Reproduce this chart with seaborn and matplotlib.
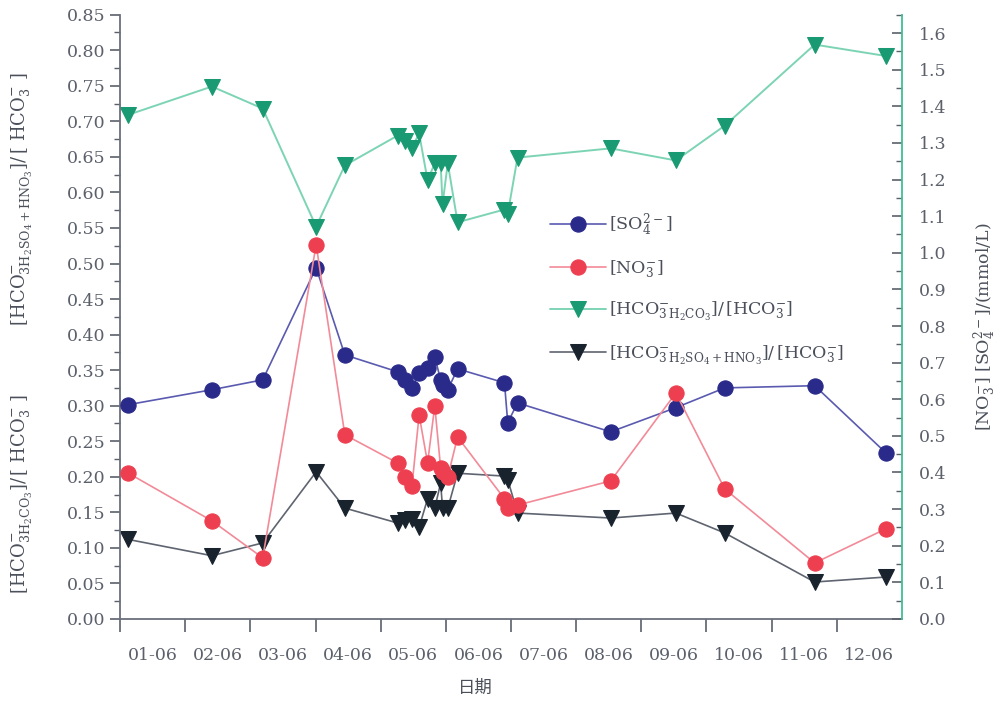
import matplotlib
matplotlib.use("Agg")
import matplotlib.pyplot as plt
import seaborn as sns
import pandas as pd
from matplotlib.ticker import MultipleLocator, FixedLocator, NullFormatter, FixedFormatter

# ---- data ----
month_pos = [0.12, 1.41, 2.19, 3.01, 3.45, 4.26, 4.37, 4.48, 4.59, 4.72, 4.83, 4.92,
             4.95, 5.03, 5.18, 5.90, 5.95, 6.10, 7.53, 8.53, 9.28, 10.66, 11.75]
so4 = [0.585, 0.626, 0.653, 0.959, 0.721, 0.675, 0.653, 0.631, 0.672, 0.686, 0.716, 0.653,
       0.640, 0.626, 0.683, 0.645, 0.536, 0.590, 0.511, 0.577, 0.631, 0.637, 0.454]
no3 = [0.399, 0.268, 0.167, 1.022, 0.503, 0.426, 0.388, 0.363, 0.557, 0.426, 0.582, 0.413,
       0.402, 0.388, 0.497, 0.328, 0.303, 0.311, 0.377, 0.617, 0.355, 0.153, 0.246]
ratio_h2co3 = [0.709, 0.749, 0.718, 0.552, 0.638, 0.680, 0.673, 0.663, 0.683, 0.617, 0.641, 0.641,
               0.584, 0.641, 0.558, 0.576, 0.570, 0.649, 0.662, 0.645, 0.694, 0.808, 0.792]
ratio_acid = [0.112, 0.089, 0.107, 0.207, 0.156, 0.135, 0.139, 0.140, 0.129, 0.169, 0.156, 0.191,
              0.156, 0.156, 0.205, 0.201, 0.196, 0.149, 0.142, 0.149, 0.121, 0.052, 0.059]
month_labels = ["01-06", "02-06", "03-06", "04-06", "05-06", "06-06",
                "07-06", "08-06", "09-06", "10-06", "11-06", "12-06"]

df = pd.DataFrame({"x": month_pos, "so4": so4, "no3": no3,
                   "r1": ratio_h2co3, "r2": ratio_acid})

sns.set_theme(style="white")
plt.rcParams["font.family"] = ["DejaVu Serif", "Noto Sans CJK SC"]
plt.rcParams["mathtext.fontset"] = "dejavuserif"

tick_col = "#5b606b"
fig = plt.figure(figsize=(10, 7.01), dpi=100)
ax = fig.add_axes([0.12, 0.117, 0.782, 0.862])
ax2 = ax.twinx()

lab_so4 = r"$[\mathrm{SO}_4^{2-}]$"
lab_no3 = r"$[\mathrm{NO}_3^{-}]$"
lab_r1 = r"$[\mathrm{HCO}^{-}_{3\,\mathrm{H_2CO_3}}]/\,[\mathrm{HCO}_3^{-}]$"
lab_r2 = r"$[\mathrm{HCO}^{-}_{3\,\mathrm{H_2SO_4+HNO_3}}]/\,[\mathrm{HCO}_3^{-}]$"

sns.lineplot(data=df, x="x", y="so4", ax=ax2, estimator=None, sort=False,
             color="#5a5ab0", lw=1.2, marker="o", markersize=11,
             markerfacecolor="#2a2a8a", markeredgecolor="#2a2a8a", label=lab_so4)
sns.lineplot(data=df, x="x", y="no3", ax=ax2, estimator=None, sort=False,
             color="#f28a98", lw=1.2, marker="o", markersize=11,
             markerfacecolor="#ee3f50", markeredgecolor="#ee3f50", label=lab_no3)
sns.lineplot(data=df, x="x", y="r1", ax=ax, estimator=None, sort=False,
             color="#7cd4b4", lw=1.4, marker="v", markersize=12,
             markerfacecolor="#1a9a72", markeredgecolor="#1a9a72", label=lab_r1)
sns.lineplot(data=df, x="x", y="r2", ax=ax, estimator=None, sort=False,
             color="#5e6470", lw=1.2, marker="v", markersize=12,
             markerfacecolor="#18232e", markeredgecolor="#18232e", label=lab_r2)

h2, l2 = ax2.get_legend_handles_labels()
h1, l1 = ax.get_legend_handles_labels()
if ax.get_legend():
    ax.get_legend().remove()
if ax2.get_legend():
    ax2.get_legend().remove()
ax2.legend(h2 + h1, l2 + l1, loc="upper left", bbox_to_anchor=(0.53, 0.70),
           frameon=False, fontsize=12.5, handlelength=3.2, labelspacing=1.15,
           handletextpad=0.2, labelcolor="#4a4f5a")

# axes limits / ticks
ax.set_xlim(0, 12)
ax.set_ylim(0, 0.85)
ax2.set_ylim(0, 1.65)
ax.xaxis.set_major_locator(FixedLocator(list(range(0, 12))))
ax.xaxis.set_major_formatter(NullFormatter())
ax.xaxis.set_minor_locator(FixedLocator([i + 0.5 for i in range(12)]))
ax.xaxis.set_minor_formatter(FixedFormatter(month_labels))
ax.tick_params(axis="x", which="major", direction="out", length=9, width=1.2,
               color=tick_col, bottom=True)
ax.tick_params(axis="x", which="minor", length=0, pad=20, labelsize=12.5,
               labelcolor=tick_col, bottom=True)

ax.yaxis.set_major_locator(MultipleLocator(0.05))
ax.yaxis.set_minor_locator(MultipleLocator(0.025))
ax.yaxis.set_major_formatter(matplotlib.ticker.FormatStrFormatter("%.2f"))
ax.tick_params(axis="y", which="major", direction="out", length=7, width=1.2,
               color=tick_col, labelsize=12.5, labelcolor=tick_col, left=True)
ax.tick_params(axis="y", which="minor", direction="out", length=4, width=1.0,
               color=tick_col, left=True)

ax2.yaxis.set_major_locator(MultipleLocator(0.1))
ax2.yaxis.set_minor_locator(MultipleLocator(0.05))
ax2.yaxis.set_major_formatter(matplotlib.ticker.FormatStrFormatter("%.1f"))
ax2.tick_params(axis="y", which="major", direction="in", length=7, width=1.2,
                color=tick_col, labelsize=12.5, labelcolor=tick_col, right=True, pad=12)
ax2.tick_params(axis="y", which="minor", direction="in", length=4, width=1.0,
                color=tick_col, right=True)

for a in (ax, ax2):
    a.set_xlabel("")
    a.set_ylabel("")
    a.spines["top"].set_visible(False)
    a.grid(False)
ax.spines["left"].set_color("#6a707c")
ax.spines["bottom"].set_color("#6a707c")
ax.spines["left"].set_linewidth(1.3)
ax.spines["bottom"].set_linewidth(1.3)
ax.spines["right"].set_visible(False)
ax2.spines["left"].set_visible(False)
ax2.spines["bottom"].set_visible(False)
ax2.spines["right"].set_color("#3fbf92")
ax2.spines["right"].set_linewidth(1.3)

# axis labels
fig.text(0.475, 0.006, "日期", ha="center", va="bottom", fontsize=12.5,
         color="#4a4f5a", family=["Noto Sans CJK SC", "DejaVu Sans"])
fig.text(0.022, 0.525,
         r"$[\mathrm{HCO}^{-}_{3\mathrm{H_2CO_3}}]/\,[\ \mathrm{HCO}_3^{-}\ ]$"
         + "            "
         + r"$[\mathrm{HCO}^{-}_{3\mathrm{H_2SO_4+HNO_3}}]/\,[\ \mathrm{HCO}_3^{-}\ ]$",
         rotation=90, ha="center", va="center", fontsize=13, color="#4a4f5a")
fig.text(0.985, 0.534, r"$[\mathrm{NO}_3^{-}]\ [\mathrm{SO}_4^{2-}]/(\mathrm{mmol/L})$",
         rotation=90, ha="center", va="center", fontsize=12.5, color="#4a4f5a")

fig.savefig("out.png", dpi=100)
